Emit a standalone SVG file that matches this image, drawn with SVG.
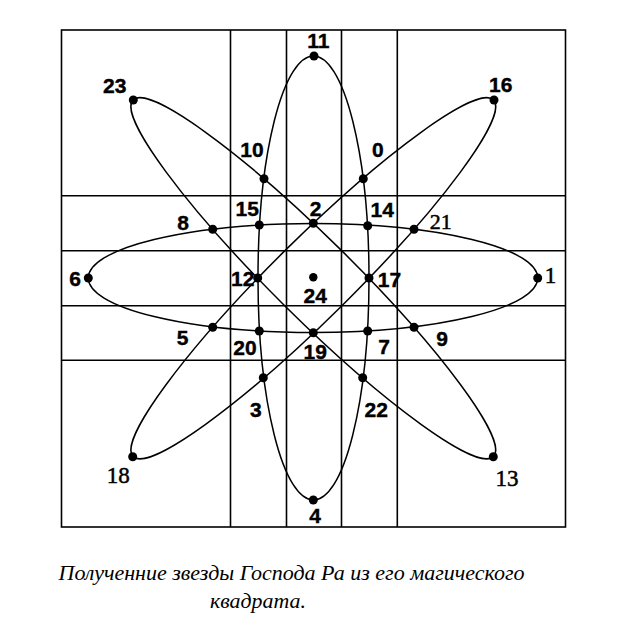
<svg xmlns="http://www.w3.org/2000/svg" width="620" height="643" viewBox="0 0 620 643">
<style>
.g{stroke:#000;stroke-width:1.6;fill:none}
.c{stroke:#000;stroke-width:1.5;fill:none}
.d{fill:#000}
.b{font-family:"Liberation Sans",Arial,sans-serif;font-weight:bold;font-size:21px;text-anchor:middle;fill:#000;stroke:#000;stroke-width:0.4}
.s{font-family:"Liberation Serif","Times New Roman",serif;font-size:23px;text-anchor:middle;fill:#000;stroke:#000;stroke-width:0.5}
.cap{font-family:"Liberation Serif","Times New Roman",serif;font-style:italic;font-size:21.5px;fill:#000}
</style>
<rect width="620" height="643" fill="#fff"/>
<g id="grid" class="g">
<rect x="61.5" y="30" width="504" height="497"/>
<line x1="230.5" y1="30" x2="230.5" y2="527"/>
<line x1="286.5" y1="30" x2="286.5" y2="527"/>
<line x1="341.5" y1="30" x2="341.5" y2="527"/>
<line x1="397.3" y1="30" x2="397.3" y2="527"/>
<line x1="61.5" y1="195.7" x2="565.5" y2="195.7"/>
<line x1="61.5" y1="250.7" x2="565.5" y2="250.7"/>
<line x1="61.5" y1="305.7" x2="565.5" y2="305.7"/>
<line x1="61.5" y1="360.3" x2="565.5" y2="360.3"/>
</g>
<g id="connectors" class="c">
<ellipse cx="313.5" cy="278" rx="55.5" ry="222"/>
<ellipse cx="313" cy="278" rx="224.7" ry="54.5"/>
<ellipse cx="0" cy="0" rx="253.5" ry="39.6" transform="translate(313.3 278.3) rotate(44.7)"/>
<ellipse cx="0" cy="0" rx="253.5" ry="39.6" transform="translate(313.3 278.3) rotate(-44.7)"/>
</g>
<g id="n11"><circle class="d" cx="314" cy="56" r="4.5"/><text class="b" x="318.3" y="48">11</text></g>
<g id="n23"><circle class="d" cx="133.3" cy="100" r="4.5"/><text class="b" x="114.7" y="92.5">23</text></g>
<g id="n16"><circle class="d" cx="494" cy="100" r="4.5"/><text class="b" x="500.7" y="91.7">16</text></g>
<g id="n10"><circle class="d" cx="264" cy="178.7" r="4.5"/><text class="b" x="252" y="157.3">10</text></g>
<g id="n0"><circle class="d" cx="363.3" cy="178.7" r="4.5"/><text class="b" x="377.8" y="156.7">0</text></g>
<g id="n15"><circle class="d" cx="259.3" cy="225" r="4.5"/><text class="b" x="247.2" y="216">15</text></g>
<g id="n2"><circle class="d" cx="313.3" cy="223.3" r="4.5"/><text class="b" x="315.5" y="215.5">2</text></g>
<g id="n14"><circle class="d" cx="367.7" cy="225.7" r="4.5"/><text class="b" x="382.3" y="217.3">14</text></g>
<g id="n8"><circle class="d" cx="212.7" cy="229.3" r="4.5"/><text class="b" x="183" y="230">8</text></g>
<g id="n21"><circle class="d" cx="414" cy="229.3" r="4.5"/><text class="s" x="440.8" y="229.3" style="font-size:22px">21</text></g>
<g id="n6"><circle class="d" cx="88.3" cy="278" r="4.5"/><text class="b" x="75" y="286">6</text></g>
<g id="n12"><circle class="d" cx="257.7" cy="278" r="4.5"/><text class="b" x="242.8" y="286">12</text></g>
<g id="n24"><circle class="d" cx="313.3" cy="277.3" r="4.2"/><text class="b" x="315.3" y="302.7">24</text></g>
<g id="n17"><circle class="d" cx="369" cy="278" r="4.5"/><text class="b" x="389.5" y="286.7">17</text></g>
<g id="n1"><circle class="d" cx="537.7" cy="278" r="4.5"/><text class="s" x="550.5" y="283.3">1</text></g>
<g id="n5"><circle class="d" cx="212.7" cy="327.3" r="4.5"/><text class="b" x="182.5" y="345">5</text></g>
<g id="n20"><circle class="d" cx="259.3" cy="331" r="4.5"/><text class="b" x="245" y="355">20</text></g>
<g id="n19"><circle class="d" cx="313.3" cy="332.7" r="4.5"/><text class="b" x="315.3" y="359.3">19</text></g>
<g id="n7"><circle class="d" cx="367.7" cy="331" r="4.5"/><text class="b" x="384.2" y="354">7</text></g>
<g id="n9"><circle class="d" cx="414" cy="327.3" r="4.5"/><text class="b" x="442.2" y="345.7">9</text></g>
<g id="n3"><circle class="d" cx="263.3" cy="377.7" r="4.5"/><text class="b" x="255.8" y="416.7">3</text></g>
<g id="n22"><circle class="d" cx="362.7" cy="377.7" r="4.5"/><text class="b" x="376.2" y="416.7">22</text></g>
<g id="n18"><circle class="d" cx="132.7" cy="456.7" r="4.5"/><text class="s" x="118.3" y="482.7">18</text></g>
<g id="n13"><circle class="d" cx="493.3" cy="456.7" r="4.5"/><text class="s" x="507" y="486">13</text></g>
<g id="n4"><circle class="d" cx="313.3" cy="500" r="4.5"/><text class="b" x="315" y="523.3">4</text></g>
<g id="caption">
<text class="cap" x="58.5" y="580" textLength="466" lengthAdjust="spacingAndGlyphs">Полученние звезды Господа Ра из его магического</text>
<text class="cap" x="210" y="608" textLength="96" lengthAdjust="spacingAndGlyphs">квадрата.</text>
</g>
</svg>
